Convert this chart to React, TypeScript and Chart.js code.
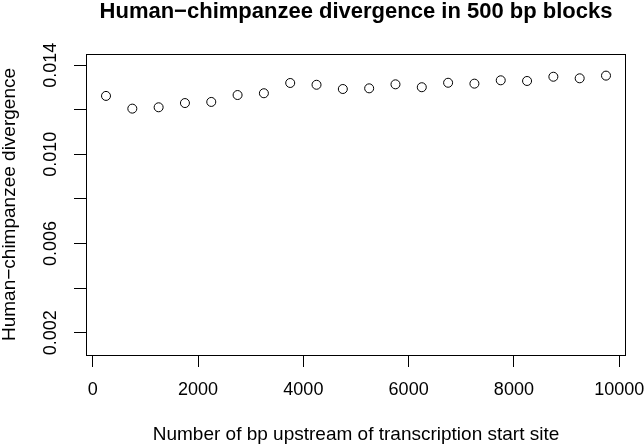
import React, { useEffect, useRef } from 'react';
import { Chart, registerables } from 'chart.js';

Chart.register(...registerables);

const titleText = 'Human\u2212chimpanzee divergence in 500 bp blocks';
const xLabel = 'Number of bp upstream of transcription start site';
const yLabel = 'Human\u2212chimpanzee divergence';

const positions = [250, 750, 1250, 1750, 2250, 2750, 3250, 3750, 4250, 4750, 5250, 5750, 6250, 6750, 7250, 7750, 8250, 8750, 9250, 9750];
const divergence = [0.01262, 0.01205, 0.01211, 0.0123, 0.01235, 0.01266, 0.01274, 0.0132, 0.01312, 0.01293, 0.01296, 0.01314, 0.01301, 0.01321, 0.01317, 0.01332, 0.01329, 0.01348, 0.01341, 0.01353];

const xTicks = [0, 2000, 4000, 6000, 8000, 10000];
const yTicks = [0.002, 0.004, 0.006, 0.008, 0.01, 0.012, 0.014];
const yLabeledTicks = [0.002, 0.006, 0.01, 0.014];

const FONT = '"Liberation Sans", Arial, Helvetica, sans-serif';

const boxPlugin = {
  id: 'rbox',
  afterDraw(chart: any) {
    const { ctx, chartArea } = chart;
    const l = Math.round(chartArea.left) + 0.5;
    const t = Math.round(chartArea.top) + 0.5;
    const r = Math.round(chartArea.right) - 0.5;
    const b = Math.round(chartArea.bottom) + 0.5;
    ctx.save();
    ctx.strokeStyle = '#000';
    ctx.lineWidth = 1;
    ctx.strokeRect(l, t, r - l, b - t);
    // main title, centred over the plotting region (as R does)
    ctx.fillStyle = '#000';
    ctx.font = 'bold 22px ' + FONT;
    ctx.textAlign = 'center';
    ctx.textBaseline = 'alphabetic';
    ctx.fillText(titleText, (chartArea.left + chartArea.right) / 2, 17.5);
    ctx.restore();
  },
};

export default function App() {
  const ref = useRef<HTMLCanvasElement | null>(null);

  useEffect(() => {
    const canvas = ref.current;
    if (!canvas) return;
    const chart = new Chart(canvas, {
      type: 'scatter',
      data: {
        datasets: [
          {
            data: positions.map((x, i) => ({ x, y: divergence[i] })),
            pointStyle: 'circle',
            pointRadius: 4.5,
            pointBorderWidth: 1,
            pointBorderColor: '#000',
            pointBackgroundColor: 'rgba(0,0,0,0)',
            showLine: false,
          },
        ],
      },
      options: {
        responsive: false,
        devicePixelRatio: 1,
        animation: false,
        events: [],
        layout: { padding: { top: 54, right: 18, bottom: 0, left: 0 } },
        plugins: {
          legend: { display: false },
          tooltip: { enabled: false },
          title: { display: false },
        },
        scales: {
          x: {
            type: 'linear',
            min: -130,
            max: 10130,
            afterBuildTicks: (scale: any) => {
              scale.ticks = xTicks.map((v) => ({ value: v }));
            },
            afterFit: (scale: any) => {
              scale.height = 91;
              scale.paddingLeft = 0;
              scale.paddingRight = 0;
            },
            grid: {
              display: true,
              drawOnChartArea: false,
              drawTicks: true,
              tickLength: 12,
              tickColor: '#000',
              tickWidth: 1,
            },
            border: { display: false },
            ticks: {
              color: '#000',
              font: { family: FONT, size: 18, lineHeight: 1 },
              padding: 14.5,
              maxRotation: 0,
              minRotation: 0,
              callback: (v: any) => String(v),
            },
            title: {
              display: true,
              text: xLabel,
              color: '#000',
              font: { family: FONT, size: 19, lineHeight: 1 },
              padding: { top: 0, bottom: 1.5 },
            },
          },
          y: {
            type: 'linear',
            min: 0.001,
            max: 0.0145,
            afterBuildTicks: (scale: any) => {
              scale.ticks = yTicks.map((v) => ({ value: v }));
            },
            afterFit: (scale: any) => {
              scale.width = 86;
              scale.paddingTop = 0;
              scale.paddingBottom = 0;
            },
            grid: {
              display: true,
              drawOnChartArea: false,
              drawTicks: true,
              tickLength: 12,
              tickColor: '#000',
              tickWidth: 1,
            },
            border: { display: false },
            ticks: {
              color: '#000',
              font: { family: FONT, size: 18, lineHeight: 1 },
              padding: 0.5,
              crossAlign: 'center',
              minRotation: 90,
              maxRotation: 90,
              callback: (v: any) => {
                const n = Number(v);
                return yLabeledTicks.some((t) => Math.abs(t - n) < 1e-9) ? n.toFixed(3) : '';
              },
            },
            title: {
              display: true,
              text: yLabel,
              color: '#000',
              font: { family: FONT, size: 19, lineHeight: 1 },
              padding: { top: 0, bottom: 0 },
            },
          },
        },
      },
      plugins: [boxPlugin],
    } as any);
    return () => chart.destroy();
  }, []);

  return (
    <div style={{ position: 'fixed', left: 0, top: 0, width: 644, height: 446, background: '#fff' }}>
      <canvas ref={ref} width={644} height={446} style={{ display: 'block', width: 644, height: 446 }} />
    </div>
  );
}
